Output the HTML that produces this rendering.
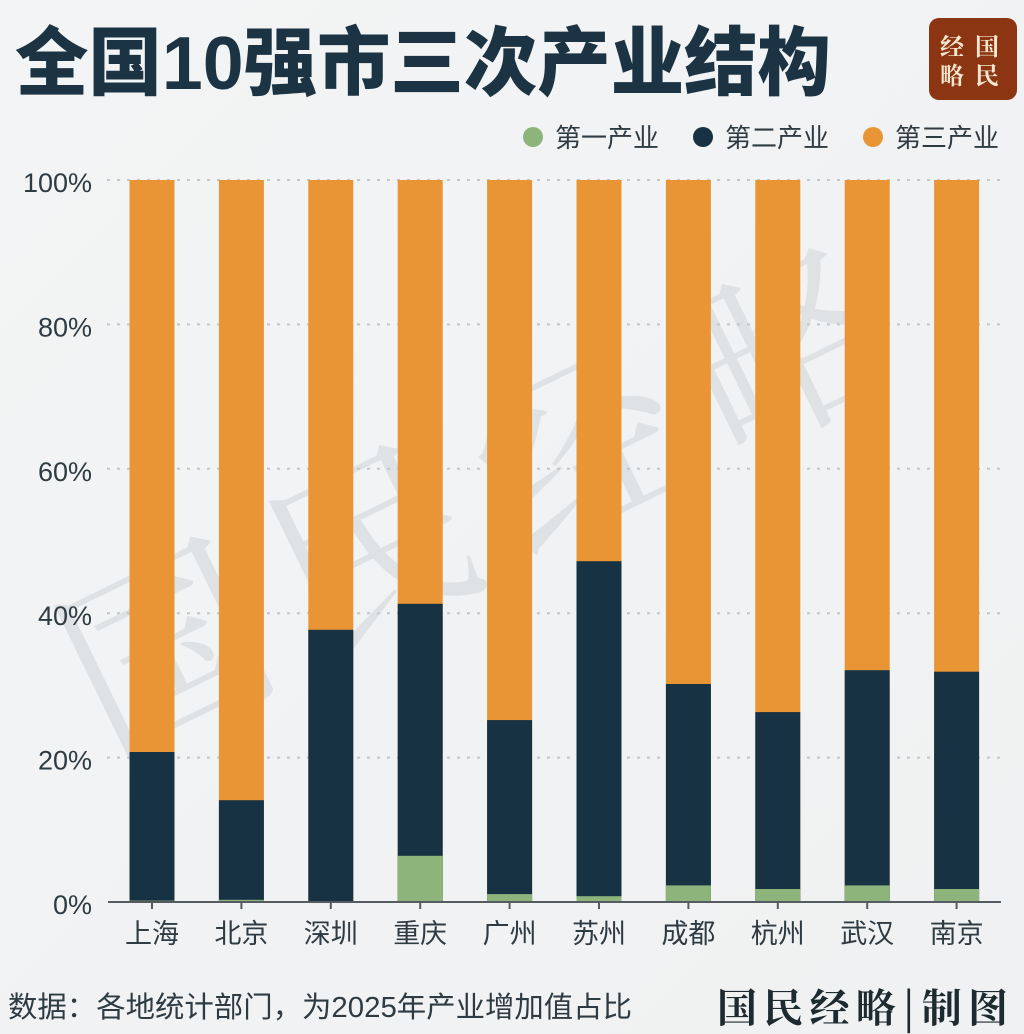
<!DOCTYPE html>
<html>
<head>
<meta charset="utf-8">
<style>
html,body{margin:0;padding:0;background:#f2f3f4;}
body{width:1024px;height:1034px;overflow:hidden;}
svg{display:block;}
.t{font-family:"Liberation Sans","Noto Sans CJK SC",sans-serif;}
</style>
</head>
<body>
<svg width="1024" height="1034" viewBox="0 0 1024 1034" xmlns="http://www.w3.org/2000/svg">
  <defs>
    <linearGradient id="bg" x1="0" y1="0" x2="1" y2="1">
      <stop offset="0" stop-color="#f3f4f5"/>
      <stop offset="1" stop-color="#eff1f2"/>
    </linearGradient>
  </defs>
  <rect x="0" y="0" width="1024" height="1034" fill="url(#bg)"/>

  <!-- Title -->
  <text x="15" y="89" font-size="75" fill="#1b3343" textLength="816" lengthAdjust="spacingAndGlyphs" style="font-family:'Liberation Sans','Noto Sans CJK SC',sans-serif;font-weight:900;">全国10强市三次产业结构</text>

  <!-- Logo -->
  <rect x="929" y="18" width="88" height="82" rx="10" ry="10" fill="#8c3513"/>
  <text x="940" y="55" font-size="24" fill="#f6e7cf" style="font-family:'Noto Serif CJK SC',serif;font-weight:700;">经</text>
  <text x="975" y="55" font-size="24" fill="#f6e7cf" style="font-family:'Noto Serif CJK SC',serif;font-weight:700;">国</text>
  <text x="940" y="84" font-size="24" fill="#f6e7cf" style="font-family:'Noto Serif CJK SC',serif;font-weight:700;">略</text>
  <text x="975" y="84" font-size="24" fill="#f6e7cf" style="font-family:'Noto Serif CJK SC',serif;font-weight:700;">民</text>

  <!-- Legend -->
  <circle cx="533" cy="137" r="10" fill="#8db57b"/>
  <text x="555" y="147" class="t" font-size="26" fill="#2f3b43">第一产业</text>
  <circle cx="703" cy="137" r="10" fill="#163243"/>
  <text x="725" y="147" class="t" font-size="26" fill="#2f3b43">第二产业</text>
  <circle cx="873" cy="137" r="10" fill="#ea9535"/>
  <text x="895" y="147" class="t" font-size="26" fill="#2f3b43">第三产业</text>

  <!-- Watermark -->
  <g transform="translate(490,495) rotate(-26)">
    <text x="0" y="70" text-anchor="middle" font-size="200" fill="#dfe2e4" letter-spacing="30" style="font-family:'Noto Serif CJK SC',serif;font-weight:400;">国民经略</text>
  </g>

  <!-- Gridlines -->
  <g stroke="#c3c7ca" stroke-width="2" stroke-dasharray="3 7">
    <line x1="107" y1="180" x2="1000" y2="180"/>
    <line x1="107" y1="324.4" x2="1000" y2="324.4"/>
    <line x1="107" y1="468.8" x2="1000" y2="468.8"/>
    <line x1="107" y1="613.2" x2="1000" y2="613.2"/>
    <line x1="107" y1="757.6" x2="1000" y2="757.6"/>
  </g>

  <!-- Y labels -->
  <g class="t" font-size="27" fill="#2f3b43" text-anchor="end">
    <text x="92" y="192">100%</text>
    <text x="92" y="336.4">80%</text>
    <text x="92" y="480.8">60%</text>
    <text x="92" y="625.2">40%</text>
    <text x="92" y="769.6">20%</text>
    <text x="92" y="914">0%</text>
  </g>

  <!-- Bars -->
  <g>
    <rect x="129.5" y="180" width="45" height="722" fill="#ea9535"/>
    <rect x="129.5" y="752" width="45" height="150" fill="#163243"/>
    <rect x="129.5" y="900.6" width="45" height="1.4" fill="#8db57b"/>

    <rect x="218.9" y="180" width="45" height="722" fill="#ea9535"/>
    <rect x="218.9" y="800.2" width="45" height="101.8" fill="#163243"/>
    <rect x="218.9" y="899.8" width="45" height="2.2" fill="#8db57b"/>

    <rect x="308.3" y="180" width="45" height="722" fill="#ea9535"/>
    <rect x="308.3" y="629.8" width="45" height="272.2" fill="#163243"/>
    <rect x="308.3" y="901.2" width="45" height="0.8" fill="#8db57b"/>

    <rect x="397.7" y="180" width="45" height="722" fill="#ea9535"/>
    <rect x="397.7" y="603.8" width="45" height="298.2" fill="#163243"/>
    <rect x="397.7" y="855.8" width="45" height="46.2" fill="#8db57b"/>

    <rect x="487.1" y="180" width="45" height="722" fill="#ea9535"/>
    <rect x="487.1" y="720.1" width="45" height="181.9" fill="#163243"/>
    <rect x="487.1" y="894.1" width="45" height="7.9" fill="#8db57b"/>

    <rect x="576.5" y="180" width="45" height="722" fill="#ea9535"/>
    <rect x="576.5" y="561.2" width="45" height="340.8" fill="#163243"/>
    <rect x="576.5" y="896.2" width="45" height="5.8" fill="#8db57b"/>

    <rect x="665.9" y="180" width="45" height="722" fill="#ea9535"/>
    <rect x="665.9" y="684" width="45" height="218" fill="#163243"/>
    <rect x="665.9" y="885.4" width="45" height="16.6" fill="#8db57b"/>

    <rect x="755.3" y="180" width="45" height="722" fill="#ea9535"/>
    <rect x="755.3" y="712.1" width="45" height="189.9" fill="#163243"/>
    <rect x="755.3" y="889" width="45" height="13" fill="#8db57b"/>

    <rect x="844.7" y="180" width="45" height="722" fill="#ea9535"/>
    <rect x="844.7" y="670.2" width="45" height="231.8" fill="#163243"/>
    <rect x="844.7" y="885.4" width="45" height="16.6" fill="#8db57b"/>

    <rect x="934.1" y="180" width="45" height="722" fill="#ea9535"/>
    <rect x="934.1" y="671.7" width="45" height="230.3" fill="#163243"/>
    <rect x="934.1" y="889" width="45" height="13" fill="#8db57b"/>
  </g>

  <!-- Axis -->
  <line x1="108" y1="902" x2="1001" y2="902" stroke="#555c61" stroke-width="2"/>
  <g stroke="#555c61" stroke-width="2">
    <line x1="152" y1="902" x2="152" y2="909"/>
    <line x1="241.4" y1="902" x2="241.4" y2="909"/>
    <line x1="330.8" y1="902" x2="330.8" y2="909"/>
    <line x1="420.2" y1="902" x2="420.2" y2="909"/>
    <line x1="509.6" y1="902" x2="509.6" y2="909"/>
    <line x1="599" y1="902" x2="599" y2="909"/>
    <line x1="688.4" y1="902" x2="688.4" y2="909"/>
    <line x1="777.8" y1="902" x2="777.8" y2="909"/>
    <line x1="867.2" y1="902" x2="867.2" y2="909"/>
    <line x1="956.6" y1="902" x2="956.6" y2="909"/>
  </g>

  <!-- X labels -->
  <g class="t" font-size="27" fill="#2f3b43" text-anchor="middle">
    <text x="152" y="943">上海</text>
    <text x="241.4" y="943">北京</text>
    <text x="330.8" y="943">深圳</text>
    <text x="420.2" y="943">重庆</text>
    <text x="509.6" y="943">广州</text>
    <text x="599" y="943">苏州</text>
    <text x="688.4" y="943">成都</text>
    <text x="777.8" y="943">杭州</text>
    <text x="867.2" y="943">武汉</text>
    <text x="956.6" y="943">南京</text>
  </g>

  <!-- Footer -->
  <text x="8" y="1017" class="t" font-size="29" fill="#2f3b43" textLength="624" lengthAdjust="spacingAndGlyphs">数据：各地统计部门，为2025年产业增加值占比</text>
  <text x="717" y="1022" font-size="40" fill="#1d2a30" textLength="291" lengthAdjust="spacing" style="font-family:'Noto Serif CJK SC',serif;font-weight:700;">国民经略|制图</text>
</svg>
</body>
</html>
